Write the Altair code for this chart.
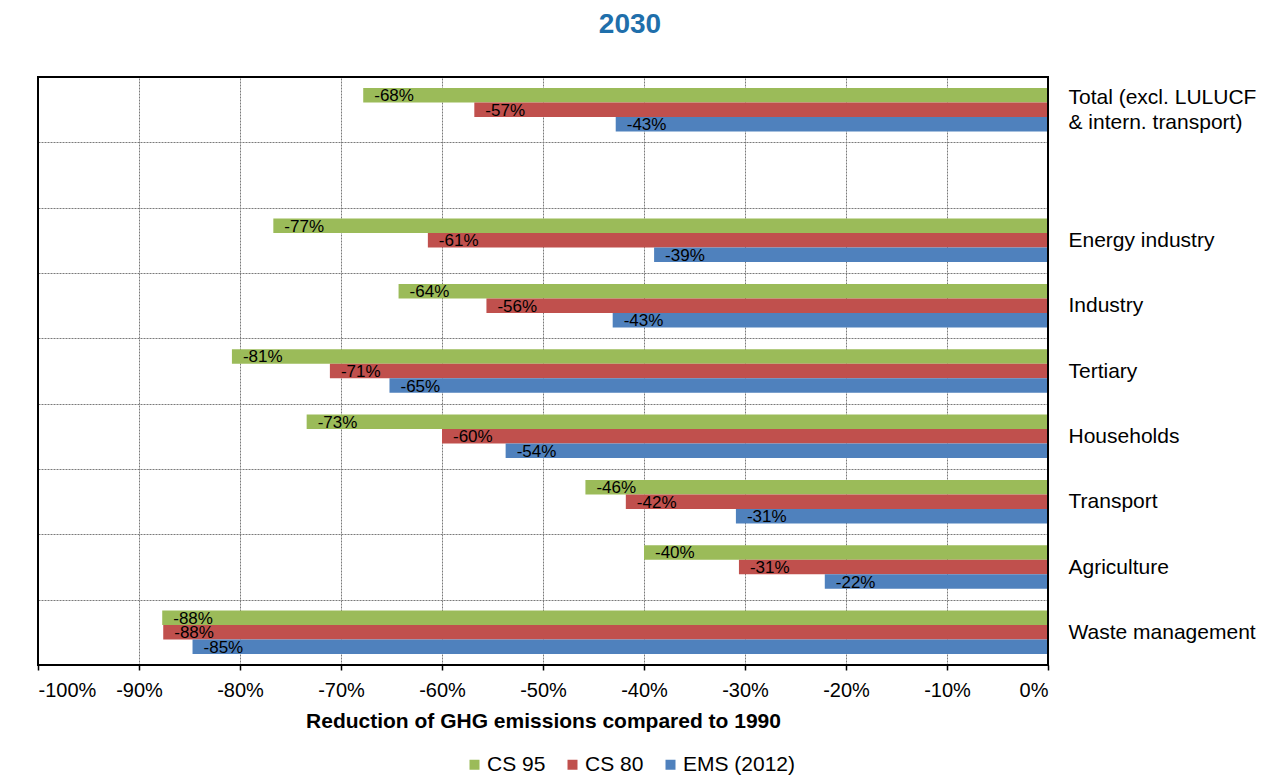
import altair as alt
import pandas as pd

# ---- data ----
categories = [
    "Total (excl. LULUCF & intern. transport)",
    " ",
    "Energy industry",
    "Industry",
    "Tertiary",
    "Households",
    "Transport",
    "Agriculture",
    "Waste management",
]
data_categories = [c for c in categories if c.strip()]
series = ["CS 95", "CS 80", "EMS (2012)"]
colors = ["#9BBB59", "#C0504D", "#4F81BD"]

cs95 = [-0.678, -0.767, -0.643, -0.808, -0.734, -0.458, -0.400, -0.877]
cs80 = [-0.568, -0.614, -0.556, -0.711, -0.600, -0.418, -0.306, -0.876]
ems = [-0.428, -0.390, -0.431, -0.652, -0.537, -0.309, -0.221, -0.847]

x_ticks = [-1.0, -0.9, -0.8, -0.7, -0.6, -0.5, -0.4, -0.3, -0.2, -0.1, 0.0]
x_domain = [-1.0, 0.0]

rows = []
for s, vals in zip(series, [cs95, cs80, ems]):
    for c, v in zip(data_categories, vals):
        rows.append({"category": c, "series": s, "value": v,
                     "label": f"{round(v * 100)}%"})
df = pd.DataFrame(rows)

FONT = "Liberation Sans"
GRID = "#7a7a7a"

total_label = categories[0]
label_expr = (
    f"datum.label == '{total_label}' ? "
    "['Total (excl. LULUCF', '\u2002& intern. transport)'] : datum.label"
)

y_enc = alt.Y(
    "category:N",
    scale=alt.Scale(domain=categories, paddingInner=0, paddingOuter=0),
    axis=alt.Axis(
        orient="right", title=None, ticks=False, domain=False,
        grid=True, tickBand="extent", gridColor=GRID, gridDash=[2, 1],
        gridWidth=1, labelExpr=label_expr, labelFontSize=21,
        labelPadding=20, labelLineHeight=25, labelColor="black",
        labelFont=FONT, labelAlign="left", labelBaseline="middle",
        labelLimit=400,
        labelOffset=alt.condition(
            f"datum.value == '{total_label}'", alt.value(-12), alt.value(0)
        ),
    ),
)
yoff = alt.YOffset(
    "series:N",
    scale=alt.Scale(domain=series, paddingOuter=0.75, paddingInner=0),
)
x_enc = alt.X(
    "value:Q",
    scale=alt.Scale(domain=x_domain, nice=False, zero=False),
    axis=alt.Axis(
        values=x_ticks, labelExpr="round(datum.value * 100) + '%'",
        title="Reduction of GHG emissions compared to 1990",
        titleFontSize=21, titleFontWeight="bold", titleFont=FONT,
        titleColor="black", titlePadding=10,
        labelFontSize=20, labelFont=FONT, labelColor="black",
        labelPadding=10, tickSize=5, tickColor="black", tickWidth=1.5,
        domain=False, grid=True, gridColor=GRID, gridDash=[2, 1],
        gridWidth=1,
    ),
)

color_enc = alt.Color(
    "series:N",
    scale=alt.Scale(domain=series, range=colors),
    legend=alt.Legend(
        orient="none", direction="horizontal", legendX=426, legendY=677,
        title=None, symbolType="square", symbolSize=100,
        symbolStrokeWidth=0, labelFontSize=21, labelFont=FONT,
        labelColor="black", columnPadding=16, labelOffset=2, padding=0,
    ),
)

base = alt.Chart(df)

bars = base.mark_bar(size=14.5).encode(
    x=x_enc, x2=alt.datum(0), y=y_enc, yOffset=yoff, color=color_enc,
)

texts = base.mark_text(
    align="left", baseline="middle", dx=11, dy=1, fontSize=17, font=FONT,
    color="black",
).encode(
    x=alt.X("value:Q"), y=alt.Y("category:N"), yOffset=alt.YOffset("series:N"),
    text="label:N",
)

# plot-area frame (black border on all four sides)
frame = alt.Chart(pd.DataFrame({"lo": [x_domain[0]], "hi": [x_domain[1]]})).mark_rect(
    fillOpacity=0, stroke="black", strokeWidth=2
).encode(x=alt.X("lo:Q"), x2="hi:Q")

chart = (
    alt.layer(bars, texts, frame)
    .properties(
        width=1010, height=588,
        padding={"left": 30, "top": 69, "right": 216, "bottom": 110},
        autosize=alt.AutoSizeParams(type="none"),
        title=alt.Title(
            "2030", fontSize=28, fontWeight="bold", color="#1F6FAB",
            font=FONT, anchor="middle", dx=87, offset=27,
        ),
    )
    .configure_view(strokeWidth=0)
    .configure(font=FONT)
)

chart.save("out.html", embed_options={"renderer": "svg", "actions": False})
